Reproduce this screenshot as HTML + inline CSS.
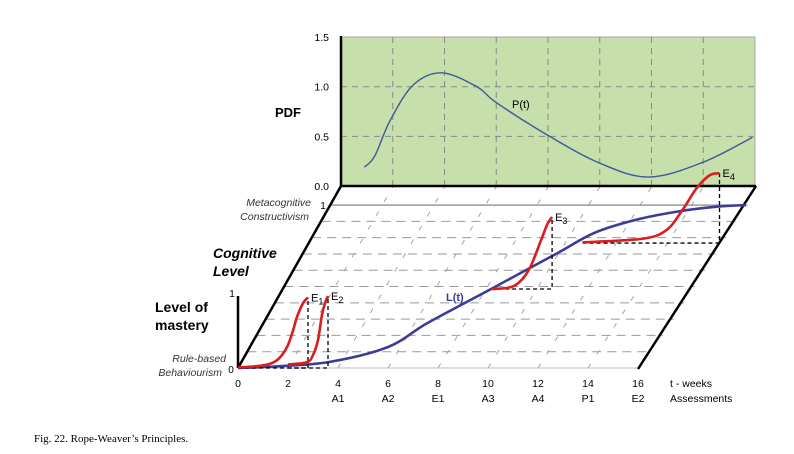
<!DOCTYPE html>
<html><head><meta charset="utf-8"><style>
body{margin:0;background:#fff;}
svg{display:block;font-family:"Liberation Sans",sans-serif;}
</style></head><body>
<svg id="fig" width="794" height="454" viewBox="0 0 794 454" xmlns="http://www.w3.org/2000/svg">
<g id="pdfPanel"></g>
<g id="plane"></g>
<g id="labels">
<text x="288" y="117" font-size="13" font-weight="bold" text-anchor="middle">PDF</text>
<text x="213" y="258" font-size="14" font-weight="bold" font-style="italic">Cognitive</text>
<text x="213" y="276" font-size="14" font-weight="bold" font-style="italic">Level</text>
<text x="155" y="312" font-size="14" font-weight="bold">Level of</text>
<text x="155" y="330" font-size="14" font-weight="bold">mastery</text>
<text x="311" y="206" font-size="10.5" font-style="italic" fill="#333" text-anchor="end">Metacognitive</text>
<text x="309" y="220" font-size="10.5" font-style="italic" fill="#333" text-anchor="end">Constructivism</text>
<text x="323" y="209" font-size="10" text-anchor="middle">1</text>
<text x="226" y="362" font-size="10.5" font-style="italic" fill="#333" text-anchor="end">Rule-based</text>
<text x="222" y="376" font-size="10.5" font-style="italic" fill="#333" text-anchor="end">Behaviourism</text>
<text x="231" y="373" font-size="10" text-anchor="middle">0</text>
<text x="232" y="297" font-size="10" text-anchor="middle">1</text>
<text x="670" y="387" font-size="10.5">t - weeks</text>
<text x="670" y="402" font-size="10.5">Assessments</text>
<text x="34" y="442" font-size="11" font-family="Liberation Serif, serif">Fig. 22.  Rope-Weaver’s Principles.</text>
</g>
</svg>
<script>
// ---- data ----
var pdfTicks = [0.0, 0.5, 1.0, 1.5];
var pdfTickLabels = ["0.0", "0.5", "1.0", "1.5"];
var pdfT = [0.9, 1.3, 1.9, 2.8, 3.9, 5.25, 6.0, 8.0, 10.0, 11.9, 14.0, 15.9];
var pdfP = [0.19, 0.3, 0.66, 1.02, 1.14, 1.0, 0.84, 0.51, 0.23, 0.09, 0.24, 0.49];
var weekTicks = [0, 2, 4, 6, 8, 10, 12, 14, 16];
var weekLabels = ["0", "2", "4", "6", "8", "10", "12", "14", "16"];
var assessWeeks = [4, 6, 8, 10, 12, 14, 16];
var assessLabels = ["A1", "A2", "E1", "A3", "A4", "P1", "E2"];
var levelT = [0, 1.5, 3.5, 5.5, 6.5, 8.2, 9.9, 10.9, 12.2, 13.6, 15.0, 16.1];
var levelL = [0, 0.01, 0.037, 0.129, 0.276, 0.485, 0.70, 0.83, 0.91, 0.96, 0.99, 1.0];
var e1T = [0, 0.6, 1.2, 1.6, 1.96, 2.2, 2.36, 2.6, 2.8];
var e1M = [0.01, 0.02, 0.05, 0.12, 0.29, 0.52, 0.71, 0.9, 0.98];
var e2T = [2.0, 2.76, 3.0, 3.2, 3.36, 3.5, 3.6];
var e2M = [0.05, 0.08, 0.18, 0.39, 0.74, 0.92, 1.0];
var e3T = [8.2, 9.1, 9.7, 10.2, 10.45, 10.64];
var e3M = [0, 0.04, 0.26, 0.68, 0.9, 1.0];
var e4T = [10.68, 13.08, 14.04, 14.68, 15.24, 15.76, 16.16];
var e4M = [0.01, 0.06, 0.18, 0.46, 0.76, 0.94, 0.97];

var NS = "http://www.w3.org/2000/svg";
function mk(tag, attrs, parent) {
  var e = document.createElementNS(NS, tag);
  for (var k in attrs) e.setAttribute(k, attrs[k]);
  parent.appendChild(e);
  return e;
}
function pdfX(t) { return 341 + 25.875 * t; }
function pdfY(p) { return 186 - 99.3 * p; }
function planeX(t, L) { var d = 0.9 * L; return (238 + 25 * t) * (1 - d) + (341 + 25.875 * t) * d; }
function planeY(L) { return 368 - 181 * 0.9 * L; }
function smooth(pts) {
  var s = "M" + pts[0][0] + "," + pts[0][1];
  for (var i = 0; i < pts.length - 1; i++) {
    var p0 = pts[i - 1] || pts[i], p1 = pts[i], p2 = pts[i + 1], p3 = pts[i + 2] || p2;
    var c1x = p1[0] + (p2[0] - p0[0]) / 6, c1y = p1[1] + (p2[1] - p0[1]) / 6;
    var c2x = p2[0] - (p3[0] - p1[0]) / 6, c2y = p2[1] - (p3[1] - p1[1]) / 6;
    s += " C" + c1x + "," + c1y + " " + c2x + "," + c2y + " " + p2[0] + "," + p2[1];
  }
  return s;
}

// ---- PDF panel ----
var pg = document.getElementById("pdfPanel");
var bg = mk("rect", {x: 341, y: 37, width: 414, height: 149, fill: "#c6dfab", stroke: "#aaa", "stroke-width": 1}, pg);


for (var i = 1; i < 8; i++) {
  var vl = mk("line", {x1: pdfX(2 * i), y1: 37, x2: pdfX(2 * i), y2: 186, stroke: "#888", "stroke-dasharray": "6,5", "stroke-width": 1}, pg);
  
  
}
for (var i = 0; i < pdfTicks.length; i++) {
  if (pdfTicks[i] > 0 && pdfTicks[i] < 1.5) {
    var hl = mk("line", {x1: 341, y1: pdfY(pdfTicks[i]), x2: 755, y2: pdfY(pdfTicks[i]), stroke: "#888", "stroke-dasharray": "6,5"}, pg);
    
    
  }
  var tl = mk("text", {x: 329, y: pdfY(pdfTicks[i]) + 4, "font-size": 10.5, "text-anchor": "end"}, pg);
  tl.textContent = pdfTickLabels[i];
  
  
}
var ax = mk("line", {x1: 341, y1: 36, x2: 341, y2: 187, stroke: "#000", "stroke-width": 2.5}, pg);


var pp = [];
for (var i = 0; i < pdfT.length; i++) pp.push([pdfX(pdfT[i]), pdfY(pdfP[i])]);
var pcurve = mk("path", {d: smooth(pp), fill: "none", stroke: "#3a5a9a", "stroke-width": 1.4}, pg);


var pl = mk("text", {x: 512, y: 108, "font-size": 11}, pg);
pl.textContent = "P(t)";



// ---- plane ----
var g = document.getElementById("plane");
var poly = mk("polygon", {points: "238,368 341,187 755,187 638,368", fill: "#fff"}, g);


for (var k = 1; k < 10; k++) {
  var L = k / 10;
  var hd = mk("line", {x1: planeX(0, L), y1: planeY(L), x2: planeX(16, L) + 4, y2: planeY(L), stroke: "#999", "stroke-dasharray": "9,6", "stroke-width": 1}, g);
  
  
}
for (var i = 1; i < 8; i++) {
  var dl = mk("line", {x1: planeX(2 * i, 0), y1: planeY(0), x2: planeX(2 * i, 1 / 0.9), y2: 187, stroke: "#999", "stroke-dasharray": "5,11", "stroke-width": 0.9}, g);
  
  
}
var l1 = mk("line", {x1: planeX(0, 1), y1: planeY(1), x2: planeX(16, 1) + 4, y2: planeY(1), stroke: "#999", "stroke-width": 1.5}, g);


var bl = mk("line", {x1: 238, y1: 368, x2: 638, y2: 368, stroke: "#bbb", "stroke-width": 1}, g);


var edges = [[238, 368, 341, 186, 'left-edge'], [341, 186, 756, 186, 'top-edge'], [756, 186, 638, 369, 'right-edge'], [238, 368, 238, 296, 'mastery-axis']];
for (var i = 0; i < edges.length; i++) {
  var ed = mk("line", {x1: edges[i][0], y1: edges[i][1], x2: edges[i][2], y2: edges[i][3], stroke: "#000", "stroke-width": 2.5}, g);
  
  
}
for (var i = 0; i < weekTicks.length; i++) {
  var wt = mk("text", {x: planeX(weekTicks[i], 0), y: 387, "font-size": 10.5, "text-anchor": "middle"}, g);
  wt.textContent = weekLabels[i];
  
  
}
for (var i = 0; i < assessWeeks.length; i++) {
  var at = mk("text", {x: planeX(assessWeeks[i], 0), y: 402, "font-size": 10.5, "text-anchor": "middle"}, g);
  at.textContent = assessLabels[i];
  
  
}
var lp = [];
for (var i = 0; i < levelT.length; i++) lp.push([planeX(levelT[i], levelL[i]), planeY(levelL[i])]);
var lc = mk("path", {d: smooth(lp), fill: "none", stroke: "#3c3c96", "stroke-width": 2.6}, g);


var ll = mk("text", {x: 446, y: 301, "font-size": 11, "font-weight": "bold", fill: "#3c3c96"}, g);
ll.textContent = "L(t)";



function drawE(ts, ms, t0, L0, sub, name) {
  var bx = planeX(t0, L0), by = planeY(L0);
  var pts = [];
  for (var i = 0; i < ts.length; i++) pts.push([bx + (ts[i] - t0) * 25, by - ms[i] * 72]);
  var top = pts[pts.length - 1];
  var box = mk("polyline", {points: pts[0][0] + "," + by + " " + top[0] + "," + by + " " + top[0] + "," + top[1], fill: "none", stroke: "#000", "stroke-dasharray": "4,3", "stroke-width": 1.3}, g);
  
  
  var c = mk("path", {d: smooth(pts), fill: "none", stroke: "#d81e1e", "stroke-width": 2.6}, g);
  
  
  var t = mk("text", {x: top[0] + 3, y: top[1] + 4, "font-size": 11}, g);
  t.textContent = "E";
  var s = mk("tspan", {dy: 3, "font-size": 9}, t);
  s.textContent = sub;
  
  
}
drawE(e1T, e1M, 0, 0, "1", "e1");
drawE(e2T, e2M, 2.0, 0, "2", "e2");
drawE(e3T, e3M, 8.2, 0.485, "3", "e3");
drawE(e4T, e4M, 10.6, 0.767, "4", "e4");
</script>
</body></html>
